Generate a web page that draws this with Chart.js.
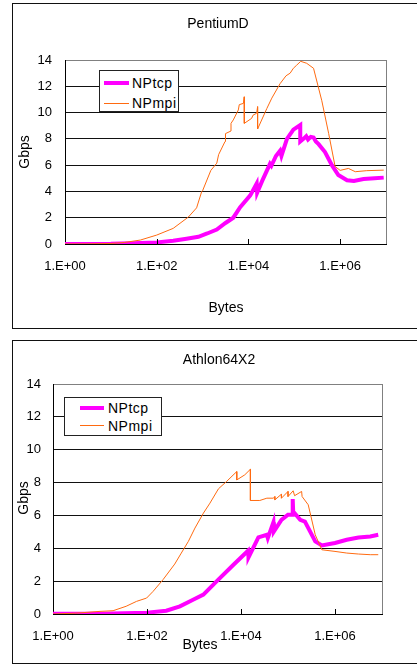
<!DOCTYPE html>
<html>
<head>
<meta charset="utf-8">
<script src="https://cdn.jsdelivr.net/npm/chart.js@4/dist/chart.umd.min.js"></script>
<style>
  html, body { margin:0; padding:0; background:#fff; overflow:hidden; }
  body { width:417px; height:664px; position:relative; overflow:hidden;
         font-family:"Liberation Sans", Arial, sans-serif; color:#000; }
  .box { position:absolute; left:12px; width:460px; border-top:1px solid #111; border-left:1px solid #111; border-bottom:1px solid #111; box-sizing:border-box; background:#fff; }
  canvas { position:absolute; left:0; }
  .txt { position:absolute; font-size:14px; line-height:1; white-space:nowrap; transform:translate(-50%,-50%); }
  .rot { transform:translate(-50%,-50%) rotate(-90deg); }
  .legend { position:absolute; border:1px solid #222; background:#fff; box-sizing:border-box; z-index:5; }
  .lg-line { position:absolute; }
  .lg-txt { position:absolute; font-size:14px; line-height:1; letter-spacing:0.5px; transform:translateY(-50%); white-space:nowrap; }
</style>
</head>
<body>
<div class="box" style="top:3px;height:326px;"></div>
<div class="box" style="top:340px;height:324px;"></div>

<canvas id="c1" width="417" height="332" style="top:0px;"></canvas>
<canvas id="c2" width="417" height="330" style="top:334px;"></canvas>

<div class="txt" style="left:218px;top:23px;">PentiumD</div>
<div class="txt rot" style="left:24px;top:152px;">Gbps</div>
<div class="txt" style="left:226px;top:307px;">Bytes</div>

<div class="txt" style="left:219px;top:359px;">Athlon64X2</div>
<div class="txt rot" style="left:23px;top:498px;">Gbps</div>
<div class="txt" style="left:200px;top:644px;">Bytes</div>

<div id="lg1" class="legend" style="left:99px;top:70px;width:80px;height:42px;"></div>
<div id="lg2" class="legend" style="left:64px;top:397px;width:98px;height:39px;"></div>

<script>
// ---------- data ----------
const seriesNames = ["NPtcp", "NPmpi"];
const seriesColors = ["#ff00ff", "#ff6a10"];
const seriesWidths = [4, 1];

const xTickValues = [1, 100, 10000, 1000000, 10000000];
const xTickLabels = ["1.E+00", "1.E+02", "1.E+04", "1.E+06", ""];
const yTickValues = [0, 2, 4, 6, 8, 10, 12, 14];

// PentiumD
const pdTcpBytes = [1, 10, 44, 100, 229, 447, 813, 1259, 2042, 3162, 4677, 6607, 10965, 15136, 15500, 19953,
  29512, 31623, 39811, 48978, 52481, 69183, 95499, 134896, 135000, 158489, 181970, 199526, 229087, 263027,
  295121, 338844, 467735, 660693, 912011, 1412538, 1995262, 3235937, 5623413, 8912509];
const pdTcpGbps = [0.0, 0.01, 0.08, 0.12, 0.25, 0.4, 0.55, 0.8, 1.1, 1.6, 2.0, 2.8, 3.7, 4.6, 3.9, 4.8,
  6.1, 5.95, 6.7, 7.1, 6.7, 8.0, 8.7, 9.05, 7.8, 8.0, 8.2, 7.95, 8.15, 8.1,
  7.8, 7.6, 7.0, 6.0, 5.25, 4.85, 4.8, 4.95, 5.0, 5.05];

const pdMpiBytes = [1, 3, 10, 20, 44, 100, 229, 490, 741, 955, 1000, 1514, 2042, 2239, 3090, 3162, 4169, 4170,
  4677, 6026, 6310, 7762, 8128, 8130, 11749, 12589, 15136, 15849, 15850, 25119, 32359, 48978, 66069, 81283,
  95499, 112202, 138038, 186209, 263027, 398107, 562341, 776247, 1000000, 1513561, 2137962, 3801894, 8912509];
const pdMpiGbps = [0.0, 0.01, 0.04, 0.12, 0.3, 0.68, 1.19, 2.05, 2.75, 3.98, 4.05, 5.6, 6.15, 6.8, 7.8, 8.4, 8.6, 9.18,
  9.44, 10.2, 10.6, 10.7, 11.2, 9.18, 9.56, 9.8, 9.95, 10.45, 8.75, 10.3, 11.1, 12.2, 12.8, 13.0,
  13.37, 13.6, 13.9, 13.75, 13.37, 10.9, 8.4, 5.9, 5.6, 5.75, 5.5, 5.58, 5.62];

// Athlon64X2
const atTcpBytes = [1, 10, 32, 100, 257, 501, 955, 1585, 3020, 6918, 14125, 14454, 23442, 35481, 37154, 48978,
  50119, 72444, 100000, 125893, 126000, 128825, 181970, 229087, 380189, 524807, 1000000, 1778279, 3162278,
  5623413, 8317638];
const atTcpGbps = [0.02, 0.02, 0.04, 0.08, 0.2, 0.47, 0.87, 1.18, 1.99, 3.0, 3.85, 3.44, 4.66, 4.82, 4.62, 5.59,
  5.02, 5.73, 6.04, 6.04, 7.0, 6.24, 5.73, 5.63, 4.42, 4.17, 4.32, 4.52, 4.66,
  4.72, 4.82];

const atMpiBytes = [1, 3, 10, 19, 36, 60, 98, 135, 219, 389, 537, 759, 1047, 1585, 2188, 3311, 4898, 8128, 8130,
  12023, 15849, 15850, 25119, 35481, 48978, 52481, 52500, 72444, 72500, 100000, 100100, 128825, 138038,
  194984, 199526, 269153, 380189, 524807, 1000000, 1778279, 3162278, 5623413, 8317638];
const atMpiGbps = [0.0, 0.05, 0.16, 0.2, 0.47, 0.77, 0.97, 1.38, 2.09, 3.04, 3.71, 4.42, 5.23, 6.14, 6.75, 7.62, 8.06, 8.67, 8.16,
  8.47, 8.81, 6.91, 6.91, 7.05, 7.05, 7.15, 6.95, 7.29, 7.05, 7.46, 7.15, 7.5, 7.2,
  7.46, 7.15, 6.65, 4.82, 3.91, 3.81, 3.71, 3.65, 3.61, 3.61];

// ---------- helpers ----------
function pts(xs, ys) { return xs.map((x, i) => ({ x: x, y: ys[i] })); }

const innerTicks = {
  id: 'innerTicks',
  afterDraw(chart) {
    const xs = chart.scales.x, ctx = chart.ctx, b = chart.chartArea.bottom;
    ctx.save();
    ctx.strokeStyle = '#000';
    ctx.lineWidth = 1;
    xTickValues.slice(1, 4).forEach(v => {
      const px = Math.round(xs.getPixelForValue(v)) + 0.5;
      ctx.beginPath();
      ctx.moveTo(px, b);
      ctx.lineTo(px, b - 5);
      ctx.stroke();
    });
    ctx.restore();
  }
};

function makeChart(id, tcp, mpi, geom) {
  const datasets = [
    { label: seriesNames[0], data: tcp, borderColor: seriesColors[0], borderWidth: seriesWidths[0], order: 1 },
    { label: seriesNames[1], data: mpi, borderColor: seriesColors[1], borderWidth: seriesWidths[1], order: 0 }
  ].map(d => Object.assign(d, { pointRadius: 0, tension: 0, fill: false, borderJoinStyle: 'miter', backgroundColor: d.borderColor }));

  return new Chart(document.getElementById(id), {
    type: 'line',
    data: { datasets },
    plugins: [innerTicks],
    options: {
      responsive: false,
      animation: false,
      events: [],
      devicePixelRatio: 1,
      layout: { padding: { top: geom.top, left: 0, right: geom.right, bottom: geom.bottom } },
      plugins: { legend: { display: false }, tooltip: { enabled: false }, title: { display: false } },
      scales: {
        x: {
          type: 'logarithmic',
          min: 1, max: 10000000,
          afterBuildTicks: (axis) => { axis.ticks = xTickValues.map(v => ({ value: v })); },
          afterFit: (s) => { s.height = 30; },
          ticks: {
            autoSkip: false, maxRotation: 0, minRotation: 0, padding: geom.xpad,
            color: '#000', font: { family: '"Liberation Sans", Arial, sans-serif', size: 13 },
            callback: (v, i) => xTickLabels[i]
          },
          grid: {
            drawTicks: false,
            color: (c) => (c.tick && c.tick.value === 10000000) ? '#808080' : 'rgba(0,0,0,0)',
            lineWidth: 1
          },
          border: { display: true, color: '#000', width: 1 }
        },
        y: {
          min: 0, max: 14,
          afterBuildTicks: (axis) => { axis.ticks = yTickValues.map(v => ({ value: v })); },
          afterFit: (s) => { s.width = geom.left; },
          ticks: {
            padding: geom.ypad, color: '#000',
            font: { family: '"Liberation Sans", Arial, sans-serif', size: 13 }
          },
          grid: {
            drawTicks: false,
            color: (c) => (c.tick && c.tick.value === 14) ? '#808080' : '#111',
            lineWidth: 1
          },
          border: { display: true, color: '#000', width: 1 }
        }
      }
    }
  });
}

const chart1 = makeChart('c1', pts(pdTcpBytes, pdTcpGbps), pts(pdMpiBytes, pdMpiGbps),
  { top: 60, left: 65, right: 31, bottom: 58, xpad: 15, ypad: 13 });
const chart2 = makeChart('c2', pts(atTcpBytes, atTcpGbps), pts(atMpiBytes, atMpiGbps),
  { top: 50, left: 53, right: 35, bottom: 20, xpad: 15, ypad: 12 });

// ---------- HTML legends built from the datasets ----------
function buildLegend(elId, chart, g) {
  const el = document.getElementById(elId);
  chart.data.datasets.forEach((d, i) => {
    const cy = g.rows[i];
    const ln = document.createElement('div');
    ln.className = 'lg-line';
    ln.style.left = g.lineX + 'px';
    ln.style.width = g.lineW + 'px';
    ln.style.height = d.borderWidth + 'px';
    ln.style.top = (cy - d.borderWidth / 2) + 'px';
    ln.style.background = d.borderColor;
    el.appendChild(ln);
    const t = document.createElement('div');
    t.className = 'lg-txt';
    t.style.left = g.textX + 'px';
    t.style.top = cy + 'px';
    t.textContent = d.label;
    el.appendChild(t);
  });
}
// coordinates relative to legend box (inside border)
buildLegend('lg1', chart1, { rows: [12, 32], lineX: 4, lineW: 25, textX: 32 });
buildLegend('lg2', chart2, { rows: [9.5, 27.5], lineX: 15, lineW: 24, textX: 43 });
</script>
</body>
</html>
